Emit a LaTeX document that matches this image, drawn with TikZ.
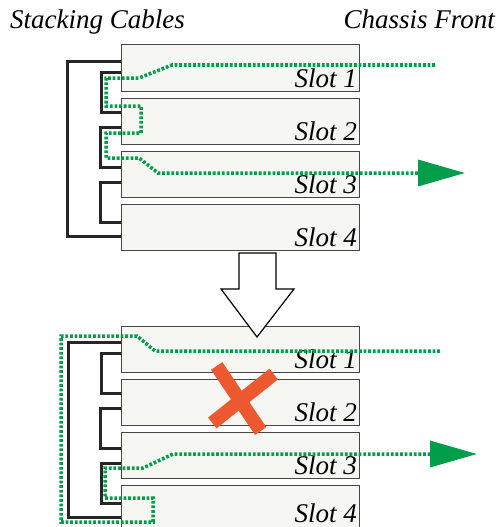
\documentclass[tikz,border=0pt]{standalone}
\usepackage{fontspec}
\setmainfont{Liberation Serif}
\usetikzlibrary{arrows.meta,positioning}
\definecolor{boxfill}{RGB}{246,246,242}
\definecolor{boxline}{RGB}{70,70,70}
\definecolor{linkgreen}{RGB}{0,158,74}
\definecolor{crossred}{RGB}{236,89,48}

\begin{document}
\begin{tikzpicture}[x=1pt, y=-1pt,
  slot/.style={draw=boxline, fill=boxfill, line width=1pt, minimum width=238pt, minimum height=46pt, inner sep=0pt, outer sep=0pt},
  slotlbl/.style={font=\fontsize{27}{30}\selectfont\itshape, inner sep=0pt, anchor=base east},
  hdr/.style={font=\fontsize{27}{30}\selectfont\itshape, inner sep=0pt},
  cable/.style={draw=black!85, line width=3pt},
  link/.style={draw=linkgreen, line width=3.5pt, dash pattern=on 2.8pt off 1.8pt},
  tip/.style={-{Triangle[length=47pt, width=26pt]}},
  blockarr/.style={draw=black, fill=white, line width=1.2pt, line join=miter},
  cross/.style={draw=crossred, line width=13.7pt}
]
\useasboundingbox (0,0) rectangle (499,527);
\clip (0,0) rectangle (499,527);

\node[hdr, anchor=base west] (stack) at (10,29) {Stacking Cables};
\node[hdr, anchor=base east] (front) at (495,29) {Chassis Front};

\node[slot] (top1) at (240,68) {};
\node[slot, below=7pt of top1] (top2) {};
\node[slot, below=7pt of top2] (top3) {};
\node[slot, below=7pt of top3] (top4) {};

\node[slot] (bot1) at (240,349) {};
\node[slot, below=7pt of bot1] (bot2) {};
\node[slot, below=7pt of bot2] (bot3) {};
\node[slot, below=7pt of bot3] (bot4) {};

\node[slotlbl] (top1l) at ([xshift=-2pt, yshift=4pt]top1.south east) {Slot 1};
\node[slotlbl] (top2l) at ([xshift=-2pt, yshift=4pt]top2.south east) {Slot 2};
\node[slotlbl] (top3l) at ([xshift=-2pt, yshift=4pt]top3.south east) {Slot 3};
\node[slotlbl] (top4l) at ([xshift=-2pt, yshift=4pt]top4.south east) {Slot 4};
\node[slotlbl] (bot1l) at ([xshift=-2pt, yshift=4pt]bot1.south east) {Slot 1};
\node[slotlbl] (bot2l) at ([xshift=-2pt, yshift=4pt]bot2.south east) {Slot 2};
\node[slotlbl] (bot3l) at ([xshift=-2pt, yshift=4pt]bot3.south east) {Slot 3};
\node[slotlbl] (bot4l) at ([xshift=-2pt, yshift=9pt]bot4.south east) {Slot 4};

\draw[cable] ([yshift=6pt]top1.west) -- ++(-54,0) |- ([yshift=-9pt]top4.west);
\draw[cable] ([yshift=-4pt]top1.west) -- ++(-20,0) |- ([yshift=9pt]top2.west);
\draw[cable] ([yshift=-6pt]top2.west) -- ++(-21,0) |- ([yshift=7pt]top3.west);
\draw[cable] ([yshift=-8pt]top3.west) -- ++(-21,0) |- ([yshift=5pt]top4.west);

\draw[cable] ([yshift=7pt]bot1.west) -- ++(-53,0) |- ([yshift=-9pt]bot4.west);
\draw[cable] ([yshift=-4pt]bot1.west) -- ++(-20,0) |- ([yshift=9pt]bot2.west);
\draw[cable] ([yshift=-6pt]bot2.west) -- ++(-21,0) |- ([yshift=7pt]bot3.west);
\draw[cable] ([yshift=-8pt]bot3.west) -- ++(-20,0) |- ([yshift=5pt]bot4.west);

\coordinate (topin) at (435,65);
\coordinate (topout) at (465,173);
\coordinate (botin) at (440,351);
\coordinate (botout) at (477,454);

\draw[link, tip] (topin) -- (172,65) -- (139,78) -- (106,78) -- (106,106) -- (141,106)
  -- (141,133) -- (106,133) -- (106,158) -- (139,158) -- (158,173) -- (topout);
\draw[link, tip] (botin) -- (155,351) -- (137,336) -- (61,336) -- (61,522) -- (153,522)
  -- (153,498) -- (105,498) -- (105,468) -- (143,468) -- (173,454) -- (botout);

\draw[blockarr] (239,253) -- (276,253) -- (276,289) -- (294,289) -- (257,337)
  -- (221,289) -- (239,289) -- cycle;

\draw[cross] (216.7,366) -- (260.7,431);
\draw[cross] (273.7,374) -- (212.3,423);

\end{tikzpicture}
\end{document}
